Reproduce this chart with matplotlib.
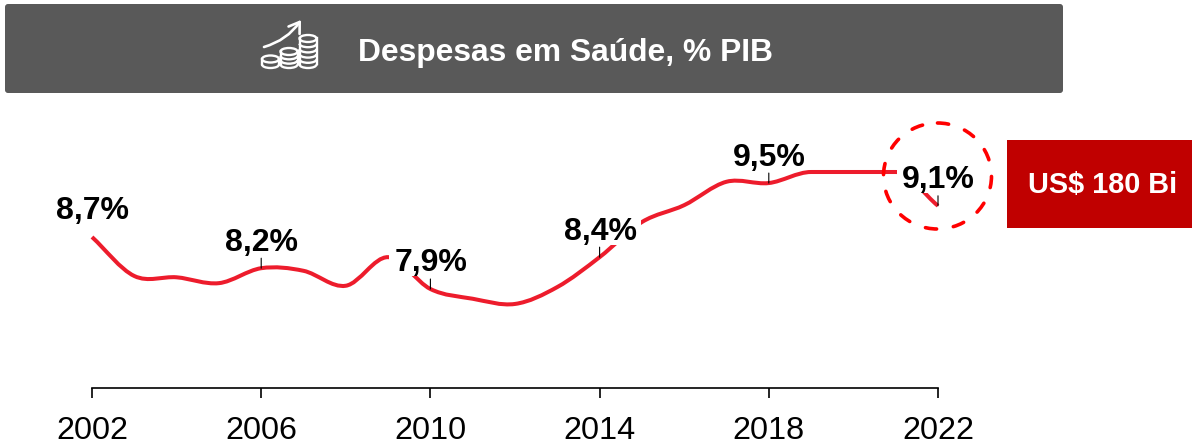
import matplotlib
matplotlib.use("Agg")
import matplotlib.pyplot as plt
from matplotlib.path import Path
from matplotlib.patches import PathPatch, FancyBboxPatch, Rectangle, Ellipse, Arc, FancyArrowPatch

plt.rcParams['font.family'] = ['Liberation Sans', 'DejaVu Sans']

years = list(range(2002, 2023))
values = [8.70, 8.10, 8.08, 7.99, 8.22, 8.18, 7.95, 8.39, 7.90, 7.75, 7.67,
          7.93, 8.39, 8.93, 9.19, 9.55, 9.53, 9.70, 9.70, 9.70, 9.18]
label_years = [2002, 2006, 2010, 2014, 2018, 2022]
label_texts = ['8,7%', '8,2%', '7,9%', '8,4%', '9,5%', '9,1%']
boxed_years = [2010, 2014, 2022]
title = 'Despesas em Saúde, % PIB'
callout = 'US$ 180 Bi'

W, H = 1192, 448
fig = plt.figure(figsize=(W / 100, H / 100), dpi=100, facecolor='white')

# main axes: 2002 at px 92, 2022 at px 938, axis line at px 388
ax = fig.add_axes([92 / W, 1 - 388 / H, (938 - 92) / W, (388 - 110) / H])
ax.patch.set_alpha(0)
ax.set_xlim(2002, 2022)
ax.set_ylim(8.7 - (388 - 237) / 65, 8.7 + (237 - 110) / 65)
for s in ('top', 'left', 'right'):
    ax.spines[s].set_visible(False)
ax.spines['bottom'].set_linewidth(1.2)
ax.set_yticks([])
ax.set_xticks(label_years)
ax.set_xticklabels([str(y) for y in label_years])
ax.tick_params(axis='x', length=7.2, width=1.2, pad=13, labelsize=23.3, colors='black')

# smooth line: cubic segments through the yearly values, flat where neighbours are equal
n = len(years)
tang = []
for i in range(n):
    a, b = max(i - 1, 0), min(i + 1, n - 1)
    flat = (i > 0 and values[i] == values[i - 1]) or (i < n - 1 and values[i] == values[i + 1])
    tang.append(0.0 if flat else (values[b] - values[a]) / (b - a))
verts = [(years[0], values[0])]
codes = [Path.MOVETO]
for i in range(n - 1):
    verts += [(years[i] + 1 / 3, values[i] + tang[i] / 3),
              (years[i + 1] - 1 / 3, values[i + 1] - tang[i + 1] / 3),
              (years[i + 1], values[i + 1])]
    codes += [Path.CURVE4] * 3
ax.add_patch(PathPatch(Path(verts, codes), fc='none', ec='#ED1C2C', lw=2.9,
                       capstyle='butt', zorder=2, clip_on=False))

# labels, white masks over the line and thin leader ticks
for yr, txt in zip(label_years, label_texts):
    v = values[years.index(yr)]
    if yr in boxed_years:
        ax.add_patch(Rectangle((yr - 41 / 42.3, v + 12.5 / 65), 82 / 42.3, 40 / 65,
                               fc='white', ec='none', zorder=2.5, clip_on=False))
    ax.annotate(txt, xy=(yr, v), xytext=(0.5, 12.6), textcoords='offset points',
                ha='center', va='baseline', fontsize=23, fontweight='bold',
                color='black', zorder=3, annotation_clip=False)
    if yr != 2002:
        ax.annotate('', xy=(yr, v), xytext=(0, 7.2), textcoords='offset points',
                    arrowprops=dict(arrowstyle='-', color='black', lw=0.8,
                                    shrinkA=0, shrinkB=0), zorder=4,
                    annotation_clip=False)

# decoration layer in pixel coordinates
deco = fig.add_axes([0, 0, 1, 1], zorder=5)
deco.set_xlim(0, W)
deco.set_ylim(H, 0)
deco.axis('off')

deco.add_patch(FancyBboxPatch((7, 6), 1054, 85, boxstyle='round,pad=2,rounding_size=3',
                              fc='#595959', ec='none'))
deco.text(565.5, 61, title, ha='center', va='baseline', fontsize=22.9,
          fontweight='bold', color='white')

deco.add_patch(Rectangle((1007, 140), 185, 88, fc='#C00000', ec='none'))
deco.text(1102.5, 193, callout, ha='center', va='baseline', fontsize=20.8,
          fontweight='bold', color='white')

deco.add_patch(Ellipse((937.5, 176), 108, 106, fc='none', ec='#FF0000', lw=2.6,
                       linestyle=(0, (3.1, 4.7)), capstyle='round'))

# coin icon
lw_i = 1.7
for cx, top, count in [(270.5, 59, 1), (289, 51.5, 3), (308, 38.5, 5)]:
    w, h = 17, 7
    bottom = 64.5
    deco.add_patch(Ellipse((cx, top), w, h, ec='white', fc='none', lw=lw_i))
    deco.plot([cx - w / 2, cx - w / 2], [top, bottom], color='white', lw=lw_i)
    deco.plot([cx + w / 2, cx + w / 2], [top, bottom], color='white', lw=lw_i)
    for k in range(1, count + 1):
        yy = top + (bottom - top) * k / count
        deco.add_patch(Arc((cx, yy), w, h, theta1=0, theta2=180, ec='white', lw=lw_i))
deco.add_patch(FancyArrowPatch((264, 47), (301, 20), connectionstyle='arc3,rad=0.18',
                               arrowstyle='->,head_length=6,head_width=4',
                               color='white', lw=1.9, shrinkA=0, shrinkB=0,
                               mutation_scale=1.2))

fig.savefig('out.png', dpi=100, facecolor='white')
